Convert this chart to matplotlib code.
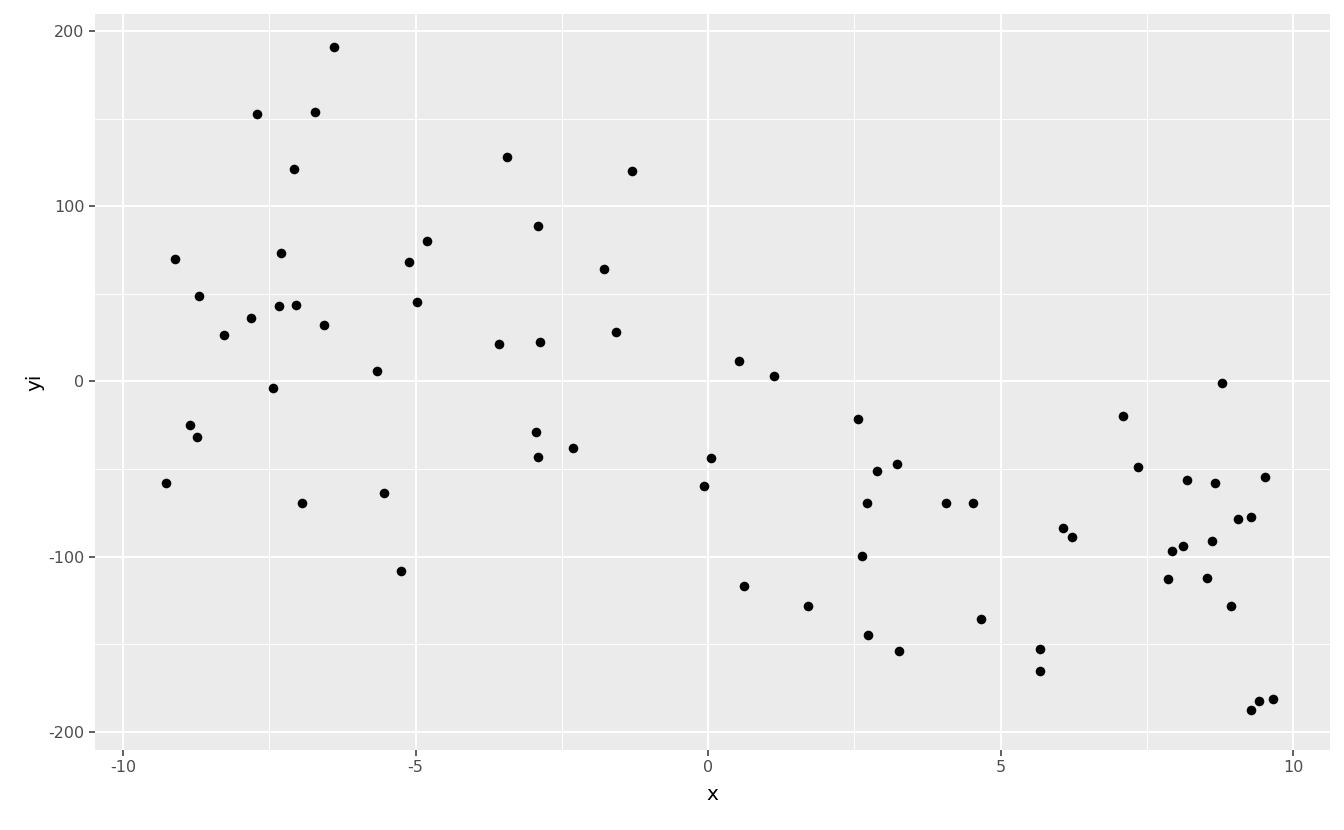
import matplotlib
matplotlib.use("Agg")
import matplotlib.pyplot as plt

plt.rcParams["axes.unicode_minus"] = False

x = [-9.26, -9.11, -8.85, -8.74, -8.70, -8.27, -7.81, -7.71, -7.44, -7.33,
     -7.30, -7.08, -7.04, -6.94, -6.72, -6.56, -6.39, -5.66, -5.54, -5.25,
     -5.11, -4.97, -4.80, -3.57, -3.44, -2.94, -2.91, -2.91, -2.87, -2.31,
     -1.78, -1.57, -1.30, -0.07, 0.05, 0.53, 0.62, 1.13, 1.71, 2.56,
     2.63, 2.72, 2.74, 2.89, 3.23, 3.26, 4.07, 4.53, 4.67, 5.68,
     5.68, 6.07, 6.22, 7.09, 7.35, 7.86, 7.93, 8.12, 8.19, 8.53,
     8.62, 8.67, 8.79, 8.94, 9.06, 9.28, 9.28, 9.42, 9.52, 9.66]
yi = [-57.9, 69.9, -24.8, -31.7, 48.8, 26.5, 36.2, 152.6, -3.7, 43.1,
      73.3, 121.3, 43.7, -69.3, 153.8, 32.2, 190.9, 6.0, -63.6, -108.1,
      68.2, 45.4, 80.2, 21.4, 128.1, -28.8, -43.1, 88.7, 22.5, -37.9,
      64.2, 28.2, 120.0, -59.6, -43.7, 11.7, -116.7, 3.1, -128.1, -21.4,
      -99.6, -69.3, -144.7, -51.1, -47.1, -153.8, -69.3, -69.3, -135.5, -152.6,
      -165.2, -83.6, -88.7, -19.7, -48.8, -112.7, -96.7, -93.9, -56.2, -112.1,
      -91.0, -57.9, -0.9, -128.1, -78.5, -77.3, -187.4, -182.3, -54.5, -181.2]

xticks = [-10, -5, 0, 5, 10]
yticks = [-200, -100, 0, 100, 200]

fig = plt.figure(figsize=(13.44, 8.30), dpi=100)
ax = fig.add_axes([0.0707, 0.0964, 0.9189, 0.8867])
ax.set_facecolor("#EBEBEB")
for s in ax.spines.values():
    s.set_visible(False)

ax.set_xlim(-10.48, 10.63)
ax.set_ylim(-210.3, 209.7)
ax.set_xticks(xticks)
ax.set_yticks(yticks)
ax.set_xticks([-7.5, -2.5, 2.5, 7.5], minor=True)
ax.set_yticks([-150, -50, 50, 150], minor=True)
ax.grid(which="major", color="white", linewidth=1.4)
ax.grid(which="minor", color="white", linewidth=0.7)
ax.set_axisbelow(True)
ax.tick_params(which="major", length=4, width=1.1, color="#333333",
               labelcolor="#4D4D4D", labelsize=11.5)
ax.tick_params(which="minor", length=0)

ax.scatter(x, yi, s=48, color="black", linewidths=0, zorder=3)

ax.set_xlabel("x", fontsize=14.5, color="black", labelpad=7)
ax.set_ylabel("yi", fontsize=14.5, color="black", labelpad=3)

fig.savefig("out.png", dpi=100)
